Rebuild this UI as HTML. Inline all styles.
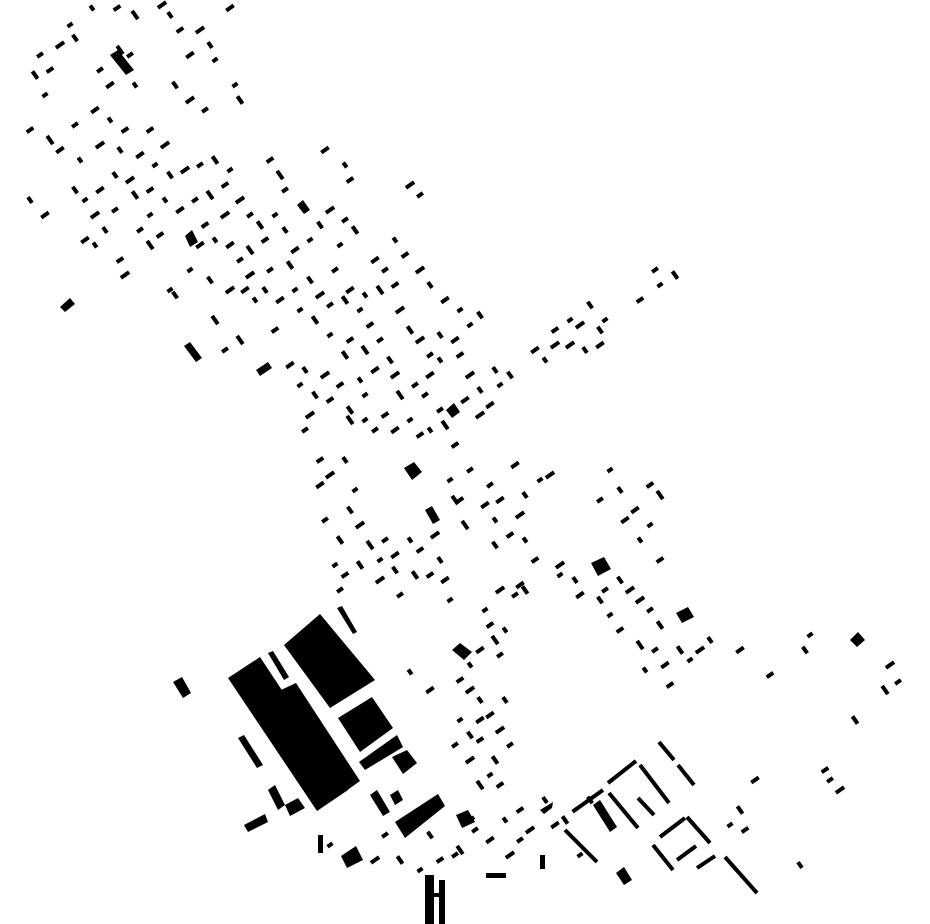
<!DOCTYPE html>
<html><head><meta charset="utf-8"><style>html,body{margin:0;padding:0;background:#fff}svg{display:block}</style></head>
<body>
<svg id="s" width="930" height="924" viewBox="0 0 930 924" xmlns="http://www.w3.org/2000/svg">
<g fill="#000" stroke="none">
<polygon points="228,678 260,657 348,790 317,811"/>
<polygon points="281,690 296,683 360,781 346,791"/>
<polygon points="284,645 320,614 375,680 330,708"/>
<polygon points="337,608 342,606 357,632 353,634"/>
<polygon points="268,653 273,651 289,677 284,680"/>
<polygon points="173,682 182,677 191,693 183,698"/>
<polygon points="238,738 244,735 263,765 257,768"/>
<polygon points="338,718 372,697 393,728 360,752"/>
<polygon points="359,762 397,735 403,747 365,770"/>
<polygon points="392,757 407,750 417,763 403,774"/>
<polygon points="395,822 438,794 445,806 405,838"/>
<polygon points="268,790 275,785 285,805 278,810"/>
<polygon points="244,825 265,814 268,822 248,832"/>
<polygon points="285,805 298,798 305,808 290,816"/>
<polygon points="370,795 377,790 390,812 383,816"/>
<polygon points="390,795 398,790 403,800 395,805"/>
<polygon points="341,856 356,846 363,860 347,868"/>
<rect x="425" y="875" width="9" height="49"/><rect x="434" y="893" width="6" height="4"/><rect x="439" y="880" width="6" height="44"/>
<polygon points="591,563 604,557 611,569 598,576"/>
<polygon points="676,613 688,607 694,617 682,623"/>
<polygon points="850,640 858,632 865,640 857,647"/>
<polygon points="404,468 414,462 422,472 412,480"/>
<polygon points="425,510 432,506 440,520 433,524"/>
<polygon points="446,410 454,403 460,412 452,418"/>
<polygon points="185,236 192,230 198,242 190,247"/>
<polygon points="60,307 70,298 75,304 65,312"/>
<polygon points="184,346 190,342 202,358 196,362"/>
<polygon points="256,370 268,362 272,368 260,376"/>
<polygon points="297,205 303,200 310,210 304,214"/>
<polygon points="110,55 118,50 134,70 126,75"/>
<polygon points="452,650 460,643 472,652 464,660"/>
<polygon points="456,815 468,810 475,822 462,828"/>
<polygon points="593,805 600,800 617,827 610,832"/>
<polygon points="616,873 624,867 632,880 624,885"/>
<polygon points="540,810 553,802 552,808 544,814"/>
<rect x="486" y="873" width="20" height="5"/>
<rect x="318" y="835" width="5" height="18"/>
<rect x="540" y="855" width="5" height="14"/>
</g>
<g stroke="#000" stroke-width="4" stroke-linecap="butt" fill="none">
<line x1="659" y1="742" x2="674" y2="760"/><line x1="678" y1="765" x2="694" y2="785"/>
<line x1="636" y1="761" x2="608" y2="783"/><line x1="640" y1="765" x2="669" y2="803"/>
<line x1="603" y1="790" x2="575" y2="810"/><line x1="609" y1="793" x2="638" y2="828"/>
<line x1="638" y1="798" x2="654" y2="815"/><line x1="565" y1="830" x2="597" y2="862"/>
<line x1="685" y1="818" x2="660" y2="837"/><line x1="687" y1="817" x2="710" y2="843"/>
<line x1="653" y1="845" x2="673" y2="870"/><line x1="696" y1="846" x2="677" y2="860"/>
<line x1="715" y1="856" x2="697" y2="868"/><line x1="725" y1="857" x2="757" y2="893"/>
</g>
<g id="d" fill="#000"></g>
</svg>
<script>
var P=[[92,8],[117,8],[162,5],[170,15],[230,8],[70,25],[75,38],[60,45],[40,55],[35,75],[45,95],[50,70],[120,50],[130,55],[110,85],[135,85],[180,30],[200,30],[210,45],[190,55],[215,60],[175,85],[190,100],[205,110],[240,100],[235,85],[30,130],[50,140],[75,125],[95,110],[110,120],[125,130],[100,145],[120,150],[140,155],[155,165],[170,175],[185,170],[200,165],[215,160],[230,170],[225,185],[210,195],[195,200],[180,210],[165,200],[150,190],[130,180],[115,175],[100,190],[85,200],[75,190],[95,215],[115,210],[135,195],[150,215],[160,235],[150,245],[140,230],[85,240],[95,245],[120,260],[125,275],[30,200],[45,215],[170,290],[175,295],[240,200],[250,215],[260,225],[275,215],[265,240],[250,250],[240,260],[230,245],[215,240],[205,225],[225,215],[285,230],[295,250],[310,240],[320,225],[330,210],[345,220],[355,230],[340,245],[270,160],[280,175],[285,190],[325,150],[345,165],[350,180],[250,275],[265,290],[280,300],[295,290],[310,280],[320,295],[330,305],[345,300],[360,310],[370,325],[380,290],[385,270],[375,260],[395,240],[405,255],[420,270],[430,285],[445,300],[460,310],[480,315],[410,185],[420,195],[315,320],[330,335],[350,340],[365,350],[380,340],[375,370],[360,380],[340,385],[325,375],[305,370],[290,365],[300,385],[315,395],[310,415],[305,430],[350,410],[365,420],[385,415],[400,395],[415,385],[430,375],[440,360],[460,355],[470,375],[480,390],[490,405],[500,385],[510,375],[420,340],[430,355],[410,330],[410,420],[420,435],[445,425],[440,410],[465,400],[545,360],[555,330],[570,345],[585,350],[600,345],[605,320],[590,305],[580,325],[655,270],[675,275],[660,285],[640,300],[215,320],[225,350],[245,290],[255,300],[320,460],[330,475],[345,460],[320,485],[355,490],[350,510],[360,525],[325,520],[340,540],[335,565],[345,575],[370,545],[385,540],[395,555],[410,540],[420,550],[435,535],[440,560],[445,580],[450,600],[395,570],[380,580],[400,595],[415,575],[450,480],[460,500],[465,525],[490,485],[500,500],[495,520],[510,535],[520,515],[525,495],[515,465],[540,480],[495,545],[500,590],[515,595],[525,590],[610,470],[650,485],[660,495],[600,500],[625,520],[640,540],[660,560],[560,565],[575,580],[580,595],[560,575],[620,580],[640,600],[650,610],[660,625],[610,615],[620,630],[640,645],[655,650],[665,665],[645,670],[670,685],[700,650],[710,640],[740,650],[810,635],[805,650],[890,665],[898,682],[855,720],[485,610],[490,625],[495,640],[500,655],[480,650],[470,665],[460,680],[470,690],[480,700],[490,715],[460,720],[470,735],[500,730],[510,745],[495,760],[490,775],[500,785],[480,785],[455,745],[430,690],[410,672],[825,770],[840,790],[800,865],[755,780],[330,845],[355,855],[375,860],[385,835],[400,860],[420,870],[440,860],[460,850],[475,830],[490,840],[505,820],[520,810],[530,830],[545,800],[555,825],[575,810],[590,800],[510,855],[455,855],[740,810],[730,825],[745,830],[135,15],[100,70],[60,150],[80,160],[150,130],[165,145],[105,230],[200,245],[190,270],[210,280],[230,290],[270,270],[290,265],[300,310],[275,330],[240,340],[335,270],[350,290],[365,295],[395,285],[400,310],[440,335],[455,340],[470,325],[390,360],[395,375],[425,395],[345,355],[365,395],[330,400],[350,420],[375,430],[395,430],[430,430],[455,445],[480,415],[495,370],[535,350],[570,320],[600,330],[555,345],[340,590],[360,565],[380,560],[430,575],[455,500],[470,470],[485,505],[525,540],[535,560],[550,475],[620,490],[635,510],[650,525],[600,600],[630,590],[605,590],[680,650],[690,660],[770,675],[885,690],[830,780],[520,585],[505,630],[480,740],[470,760],[505,700],[480,720],[420,810],[430,835],[470,820],[520,840],[565,820],[580,855]];
var g=document.getElementById('d'),h='';
for(var i=0;i<P.length;i++){var x=P[i][0],y=P[i][1];var w=6+((i*7)%5),hh=4+((i*3)%3);var a=(i%3==0)?55:-35;
h+='<rect x="'+(x-w/2)+'" y="'+(y-hh/2)+'" width="'+w+'" height="'+hh+'" transform="rotate('+a+' '+x+' '+y+')"/>';}
g.innerHTML=h;
</script>
</body></html>
